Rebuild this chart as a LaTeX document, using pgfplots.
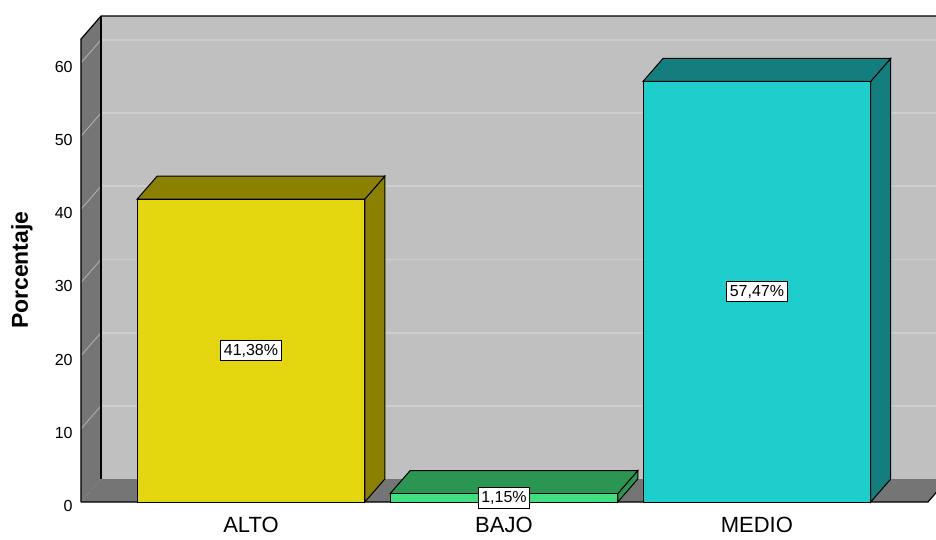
\documentclass[border=0pt]{standalone}
\usepackage{fontspec}
\setmainfont{Liberation Sans}
\usepackage{pgfplots}
\usepackage{pgfplotstable}
\pgfplotsset{compat=1.18}
\definecolor{backwall}{RGB}{192,192,192}
\definecolor{sidewall}{RGB}{117,117,117}
\definecolor{gridc}{RGB}{206,206,206}
\definecolor{diagc}{RGB}{170,170,170}
\definecolor{altoF}{RGB}{227,214,14}
\definecolor{altoT}{RGB}{140,128,0}
\definecolor{bajoF}{RGB}{64,224,128}
\definecolor{bajoT}{RGB}{42,150,82}
\definecolor{medioF}{RGB}{29,206,205}
\definecolor{medioT}{RGB}{20,125,125}

\pgfplotstableread{
x v
0 41.38
1 1.15
2 57.47
}\bars

\begin{document}
\begin{tikzpicture}
\begin{axis}[name=ax, scale only axis, width=427.5pt, height=243pt,
  xmin=-0.672, xmax=2.708, ymin=0, ymax=66.4, clip=false,
  axis line style={draw=none}, tick style={draw=none},
  xtick={0,1,2}, xticklabels={ALTO,BAJO,MEDIO},
  ytick={0,10,...,60},
  /pgf/number format/assume math mode=true,
  xticklabel style={font=\fontsize{11}{13}\selectfont, anchor=center, yshift=-11.5pt, inner sep=0pt},
  yticklabel style={font=\fontsize{8}{10}\selectfont, anchor=east, xshift=-4pt, yshift=-2pt, inner sep=0pt},
  ylabel={Porcentaje},
  ylabel style={font=\fontsize{11.5}{13}\selectfont\bfseries, at={(axis description cs:-0.069,0.477)}, anchor=center},
]
% back wall
\addplot[fill=backwall, draw=none] coordinates {(-0.593,3.14) (2.708,3.14) (2.708,66.39) (-0.593,66.39)} -- cycle;
% back wall grid lines
\addplot[gridc, line width=0.9pt] coordinates {(-0.593,13.14) (2.708,13.14)};
\addplot[gridc, line width=0.9pt] coordinates {(-0.593,23.14) (2.708,23.14)};
\addplot[gridc, line width=0.9pt] coordinates {(-0.593,33.14) (2.708,33.14)};
\addplot[gridc, line width=0.9pt] coordinates {(-0.593,43.14) (2.708,43.14)};
\addplot[gridc, line width=0.9pt] coordinates {(-0.593,53.14) (2.708,53.14)};
\addplot[gridc, line width=0.9pt] coordinates {(-0.593,63.14) (2.708,63.14)};
% left wall
\addplot[fill=sidewall, draw=none] coordinates {(-0.672,0) (-0.672,63.25) (-0.593,66.39) (-0.593,3.14)} -- cycle;
% floor
\addplot[fill=sidewall, draw=none] coordinates {(-0.672,0) (2.676,0) (2.755,3.14) (-0.593,3.14)} -- cycle;
% left wall diagonals
\addplot[diagc, line width=0.5pt] coordinates {(-0.672,10) (-0.593,13.14)};
\addplot[diagc, line width=0.5pt] coordinates {(-0.672,20) (-0.593,23.14)};
\addplot[diagc, line width=0.5pt] coordinates {(-0.672,30) (-0.593,33.14)};
\addplot[diagc, line width=0.5pt] coordinates {(-0.672,40) (-0.593,43.14)};
\addplot[diagc, line width=0.5pt] coordinates {(-0.672,50) (-0.593,53.14)};
\addplot[diagc, line width=0.5pt] coordinates {(-0.672,60) (-0.593,63.14)};
% edges
\addplot[black, line width=0.6pt] coordinates {(-0.672,0) (-0.672,63.25) (-0.593,66.39) (2.708,66.39)};
\addplot[black, line width=0.6pt] coordinates {(-0.593,66.39) (-0.593,3.14)};
\addplot[black, line width=0.6pt] coordinates {(-0.672,0) (2.676,0) (2.755,3.14)};
% ALTO
\addplot[fill=altoT, draw=black, line width=0.5pt] coordinates {(0.45,0) (0.529,3.14) (0.529,44.52) (0.45,41.38)} -- cycle;
\addplot[fill=altoT, draw=black, line width=0.5pt] coordinates {(-0.45,41.38) (-0.371,44.52) (0.529,44.52) (0.45,41.38)} -- cycle;
\addplot[fill=altoF, draw=black, line width=0.5pt] coordinates {(-0.45,0) (0.45,0) (0.45,41.38) (-0.45,41.38)} -- cycle;
% BAJO
\addplot[fill=bajoT, draw=black, line width=0.5pt] coordinates {(1.45,0) (1.529,3.14) (1.529,4.29) (1.45,1.15)} -- cycle;
\addplot[fill=bajoT, draw=black, line width=0.5pt] coordinates {(0.55,1.15) (0.629,4.29) (1.529,4.29) (1.45,1.15)} -- cycle;
\addplot[fill=bajoF, draw=black, line width=0.5pt] coordinates {(0.55,0) (1.45,0) (1.45,1.15) (0.55,1.15)} -- cycle;
% MEDIO
\addplot[fill=medioT, draw=black, line width=0.5pt] coordinates {(2.45,0) (2.529,3.14) (2.529,60.61) (2.45,57.47)} -- cycle;
\addplot[fill=medioT, draw=black, line width=0.5pt] coordinates {(1.55,57.47) (1.629,60.61) (2.529,60.61) (2.45,57.47)} -- cycle;
\addplot[fill=medioF, draw=black, line width=0.5pt] coordinates {(1.55,0) (2.45,0) (2.45,57.47) (1.55,57.47)} -- cycle;
% value labels
\addplot[draw=none, mark=none, point meta=explicit,
  nodes near coords={\pgfmathprintnumber[fixed,fixed zerofill,precision=2,use comma]{\pgfplotspointmeta}\%},
  nodes near coords align={center},
  every node near coord/.style={anchor=center, fill=white, draw=black, line width=0.4pt, text=black,
    inner xsep=1.5pt, inner ysep=1.8pt, font=\fontsize{8}{9}\selectfont}]
  table[x=x, y expr=\thisrow{v}/2, meta=v] {\bars};
\end{axis}
\pgfresetboundingbox
\path[use as bounding box] ([xshift=-40.5pt,yshift=-18.5pt]ax.south west) rectangle ([yshift=8pt]ax.north east);
\end{tikzpicture}
\end{document}
